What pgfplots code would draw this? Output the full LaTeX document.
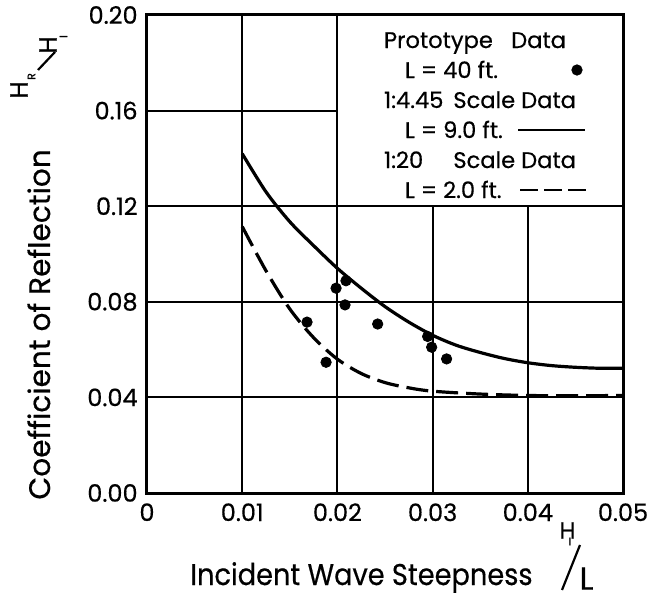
\documentclass[border=0pt]{standalone}
\usepackage{fontspec}
\setmainfont{Poppins}[UprightFeatures={FakeBold=0.5}]
\usepackage{pgfplots}
\pgfplotsset{compat=1.18}
\newcommand{\tickfont}{\fontsize{12bp}{14bp}\selectfont}
\newcommand{\ylabfont}{\fontsize{14.8bp}{18bp}\selectfont}
\newcommand{\xlabfont}{\fontsize{15bp}{18bp}\selectfont}
\newcommand{\legfont}{\fontsize{11.3bp}{14bp}\selectfont}
\begin{document}
\begin{tikzpicture}
\begin{axis}[
  name=ax, at={(0,0)}, anchor=south west,
  scale only axis, width=238bp, height=239bp,
  xmin=0, xmax=0.05, ymin=0, ymax=0.2,
  scaled ticks=false,
  xtick={0,0.01,0.02,0.03,0.04,0.05},
  xticklabels={0,0.01,0.02,0.03,0.04,0.05},
  ytick={0,0.04,0.08,0.12,0.16,0.2},
  yticklabels={0.00,0.04,0.08,0.12,0.16,0.20},
  grid=major, major grid style={black, line width=1bp},
  axis line style={black, line width=1.5bp},
  major tick length=0pt,
  tick label style={font=\tickfont, inner sep=0pt},
  xticklabel style={yshift=-5bp},
  yticklabel style={xshift=-4.5bp},
  legend plot pos=right,
  legend cell align=left,
  legend style={at={(axis description cs:0.4958,0.9686)}, anchor=north west,
    draw=none, fill=none, inner sep=0pt, outer sep=0pt, row sep=0pt, column sep=0pt,
    font=\legfont, cells={anchor=base west},
    nodes={inner sep=0pt, text height=9bp, text depth=6bp}},
]
\addplot[black, line width=1.6bp, smooth, forget plot] coordinates {
(0.0100,0.1420) (0.0125,0.1260) (0.0150,0.1135) (0.0175,0.1035)
(0.0200,0.0940) (0.0225,0.0857) (0.0250,0.0780) (0.0275,0.0715)
(0.0300,0.0660) (0.0325,0.0618) (0.0350,0.0588) (0.0375,0.0563)
(0.0400,0.0545) (0.0425,0.0533) (0.0450,0.0526) (0.0475,0.0522)
(0.0500,0.0522)};
\addplot[black, line width=1.6bp, smooth, dash pattern=on 11bp off 4bp, forget plot] coordinates {
(0.0100,0.1115) (0.0125,0.0930) (0.0150,0.0770) (0.0175,0.0650)
(0.0200,0.0560) (0.0225,0.0500) (0.0250,0.0462) (0.0275,0.0440)
(0.0300,0.0426) (0.0350,0.0414) (0.0400,0.0408) (0.0450,0.0407)
(0.0500,0.0408)};
\addplot[only marks, mark=*, mark size=2.6bp, black, forget plot] coordinates {
(0.01986,0.0857) (0.0209,0.0888) (0.0208,0.0787) (0.01681,0.0715)
(0.01881,0.0547) (0.02423,0.0707) (0.02948,0.0655) (0.0299,0.0610)
(0.03147,0.0561)};
\draw[black, line width=1bp, fill=white] (axis cs:0.02,0.12) rectangle (axis cs:0.05,0.2);
\addlegendimage{empty legend}
\addlegendentry{\makebox[0pt][l]{\makebox[91bp][l]{Prototype\hfill Data}}}
\addlegendimage{legend image code/.code={\draw plot[only marks, mark=*, mark size=2.6bp, black] coordinates {(35bp,4bp)};}}
\addlegendentry{\makebox[62bp][l]{\hspace*{11bp}L = 40 ft.}}
\addlegendimage{empty legend}
\addlegendentry{\makebox[0pt][l]{\makebox[96bp][l]{1:4.45\hfill Scale Data}}}
\addlegendimage{legend image code/.code={\draw[black, line width=1bp] (5.5bp,4bp) -- (39bp,4bp);}}
\addlegendentry{\makebox[62bp][l]{\hspace*{11bp}L = 9.0 ft.}}
\addlegendimage{empty legend}
\addlegendentry{\makebox[0pt][l]{\makebox[96bp][l]{1:20\hfill Scale Data}}}
\addlegendimage{legend image code/.code={\draw[black, line width=1.3bp, dash pattern=on 9bp off 3bp] (6.5bp,4bp) -- (41.5bp,4bp);}}
\addlegendentry{\makebox[62bp][l]{\hspace*{11bp}L = 2.0 ft.}}
\end{axis}
% axis labels
\node[rotate=90, anchor=base west, font=\ylabfont, inner sep=0pt] at (-48.5bp,-3.5bp) {Coefficient of Reflection};
\node[anchor=base west, font=\xlabfont, inner sep=0pt] at (21.5bp,-46bp) {\scalebox{0.907}[1]{Incident Wave Steepness}};
% y fraction H_R / H_I
\node[rotate=90, inner sep=0pt, font=\fontsize{12.5bp}{13bp}\selectfont] at (-64bp,201.5bp) {H};
\node[rotate=90, inner sep=0pt, font=\fontsize{5.5bp}{6bp}\selectfont] at (-57.75bp,208.25bp) {R};
\draw[line width=1.1bp] (-54.5bp,211.5bp) -- (-46bp,220.5bp);
\node[rotate=90, inner sep=0pt, font=\fontsize{12.5bp}{13bp}\selectfont] at (-49.5bp,224bp) {H};
\node[rotate=90, inner sep=0pt, font=\fontsize{5.5bp}{6bp}\selectfont] at (-41.75bp,228.25bp) {I};
% x fraction H_I / L
\node[inner sep=0pt, font=\fontsize{11.5bp}{12bp}\selectfont] at (210.25bp,-18.75bp) {H};
\node[inner sep=0pt, font=\fontsize{5.5bp}{6bp}\selectfont] at (211.5bp,-24.25bp) {I};
\draw[line width=1.1bp] (207.5bp,-48.5bp) -- (216.5bp,-26bp);
\node[inner sep=0pt, font=\fontsize{16bp}{18bp}\selectfont] at (219.75bp,-42.75bp) {L};
\pgfresetboundingbox
\path[use as bounding box] (-73.5bp,-53bp) rectangle (255.5bp,246.5bp);
\end{tikzpicture}
\end{document}
